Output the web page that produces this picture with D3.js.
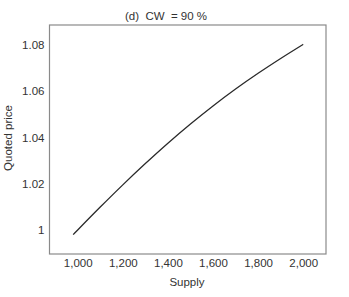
<!DOCTYPE html>
<html><head><meta charset="utf-8">
<script src="https://cdn.jsdelivr.net/npm/d3@7"></script>
<style>
body{margin:0;background:#fff;}
text{font-family:"Liberation Sans",Arial,Helvetica,sans-serif;fill:#333;}
</style></head>
<body><svg id="c" width="349" height="297"></svg>
<script>
const supply = [980, 1000, 1100, 1200, 1300, 1400, 1500, 1600, 1700, 1800, 1900, 2000];
const price  = [0.998, 1.000, 1.0099, 1.0195, 1.0287, 1.0375, 1.0458, 1.0536, 1.0609, 1.0677, 1.0741, 1.0802];
const xTicks = [1000, 1200, 1400, 1600, 1800, 2000];
const yTicks = [1.00, 1.02, 1.04, 1.06, 1.08];
const title = "(d)  CW  = 90 %";

const svg = d3.select("#c");
const L = 49.5, R = 326, T = 25, B = 254;
const x = d3.scaleLinear().domain([875, 2101]).range([L, R]);
const y = d3.scaleLinear().domain([0.98963, 1.08855]).range([B, T]);

svg.append("rect").attr("x", L).attr("y", T).attr("width", R - L).attr("height", B - T)
  .attr("fill", "none").attr("stroke", "#8a8a8a").attr("stroke-width", 1.2);

const xa = svg.append("g").attr("transform", `translate(0,${B})`)
  .call(d3.axisBottom(x).tickValues(xTicks).tickSize(0).tickPadding(5).tickFormat(d3.format(",")));
xa.select(".domain").remove();
xa.selectAll("text").attr("font-size", "11.5px").style("font-family", '"Liberation Sans",Arial,sans-serif').attr("fill", "#333");

const ya = svg.append("g").attr("transform", `translate(${L},0)`)
  .call(d3.axisLeft(y).tickValues(yTicks).tickSize(0).tickPadding(5).tickFormat(d => d === 1 ? "1" : d3.format(".2f")(d)));
ya.select(".domain").remove();
ya.selectAll("text").attr("font-size", "11.5px").style("font-family", '"Liberation Sans",Arial,sans-serif').attr("fill", "#333");

svg.append("path").datum(supply.map((s, i) => [s, price[i]]))
  .attr("fill", "none").attr("stroke", "#2a2a2a").attr("stroke-width", 1.3)
  .attr("d", d3.line().x(d => x(d[0])).y(d => y(d[1])).curve(d3.curveMonotoneX));

svg.append("text").attr("x", 166).attr("y", 20).attr("text-anchor", "middle")
  .attr("font-size", "11.5px").style("white-space", "pre").attr("xml:space", "preserve").text(title);
svg.append("text").attr("x", 187).attr("y", 286).attr("text-anchor", "middle")
  .attr("font-size", "11.5px").text("Supply");
svg.append("text").attr("transform", "translate(12,138) rotate(-90)").attr("text-anchor", "middle")
  .attr("font-size", "11.5px").text("Quoted price");
</script></body></html>
